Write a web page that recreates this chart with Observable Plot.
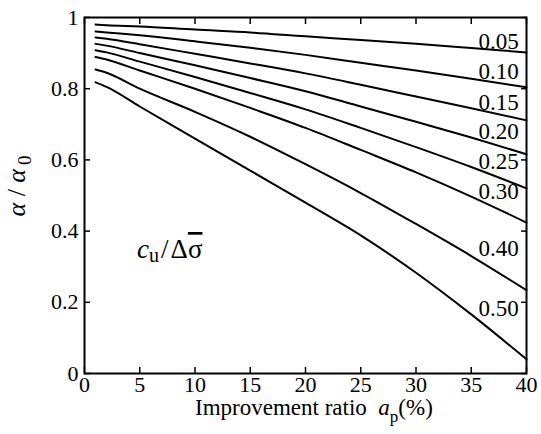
<!DOCTYPE html>
<html><head><meta charset="utf-8">
<script src="https://cdn.jsdelivr.net/npm/d3@7"></script>
<script src="https://cdn.jsdelivr.net/npm/@observablehq/plot@0.6"></script>
<style>
body{margin:0;background:#fff}
svg{display:block}
svg text, svg tspan { font-family: "Liberation Serif", "DejaVu Serif", serif !important; }
</style>
</head><body><div id="chart"></div>
<script>
// Improvement ratio a_p (%)
const xs = [1, 2, 5, 10, 15, 20, 25, 30, 35, 40];
// alpha / alpha0 for each c_u / delta-sigma
const c005 = [0.980, 0.978, 0.975, 0.966, 0.958, 0.947, 0.937, 0.926, 0.914, 0.902];
const c010 = [0.961, 0.958, 0.950, 0.933, 0.915, 0.895, 0.873, 0.851, 0.828, 0.804];
const c015 = [0.944, 0.940, 0.925, 0.898, 0.871, 0.843, 0.811, 0.778, 0.745, 0.711];
const c020 = [0.926, 0.921, 0.900, 0.866, 0.830, 0.793, 0.750, 0.707, 0.663, 0.616];
const c025 = [0.908, 0.902, 0.876, 0.833, 0.788, 0.742, 0.690, 0.636, 0.580, 0.520];
const c030 = [0.889, 0.882, 0.851, 0.800, 0.746, 0.690, 0.628, 0.565, 0.497, 0.424];
const c040 = [0.854, 0.845, 0.800, 0.735, 0.665, 0.588, 0.507, 0.420, 0.330, 0.234];
const c050 = [0.818, 0.805, 0.750, 0.660, 0.570, 0.480, 0.388, 0.283, 0.166, 0.040];
const seriesNames = ["0.05", "0.10", "0.15", "0.20", "0.25", "0.30", "0.40", "0.50"];
const seriesValues = [c005, c010, c015, c020, c025, c030, c040, c050];
// curve label placement (value space)
const labelY = [0.931, 0.848, 0.761, 0.679, 0.595, 0.510, 0.351, 0.183];
const labelX = 39.3;
const xTicks = [0, 5, 10, 15, 20, 25, 30, 35, 40];
const yTicks = [0, 0.2, 0.4, 0.6, 0.8, 1];
const yTickLabels = ["0", "0.2", "0.4", "0.6", "0.8", "1"];

const rows = seriesNames.flatMap((name, i) => xs.map((x, j) => ({name, x, y: seriesValues[i][j]})));
const labels = seriesNames.map((name, i) => ({name, y: labelY[i]}));

const font = "Liberation Serif, DejaVu Serif, serif";
const plot = Plot.plot({
  width: 541, height: 434,
  marginLeft: 84, marginRight: 15, marginTop: 17, marginBottom: 61,
  style: {fontFamily: font, fontSize: "22px", color: "black", background: "white", overflow: "visible"},
  x: {domain: [0, 40]},
  y: {domain: [0, 1]},
  marks: [
    Plot.axisX(xTicks, {anchor: "bottom", tickSize: -6, tickPadding: 9, strokeWidth: 1.5, label: null, fontSize: 22}),
    Plot.axisX(xTicks, {anchor: "top", tickSize: -6, tickFormat: () => "", strokeWidth: 1.5, label: null}),
    Plot.axisY(yTicks, {anchor: "left", tickSize: -6, tickPadding: 12, strokeWidth: 1.5, fontSize: 22,
      tickFormat: d => yTickLabels[yTicks.indexOf(d)], label: null}),
    Plot.axisY(yTicks, {anchor: "right", tickSize: -6, tickFormat: () => "", strokeWidth: 1.5, label: null}),
    Plot.line(rows, {x: "x", y: "y", z: "name", stroke: "black", strokeWidth: 2, curve: "monotone-x"}),
    Plot.text(labels, {x: labelX, y: "y", text: "name", textAnchor: "end", fontSize: 23, fill: "black"}),
    Plot.frame({stroke: "black", strokeWidth: 2})
  ]
});
document.getElementById("chart").appendChild(plot);

const svg = d3.select(plot);
// x-axis title
const xt = svg.append("text").attr("x", 195).attr("y", 415).attr("text-anchor", "start")
  .attr("font-size", 23).attr("fill", "black");
xt.append("tspan").text("Improvement ratio\u00a0\u00a0");
xt.append("tspan").attr("font-style", "italic").text("a");
xt.append("tspan").attr("font-size", 17).attr("dy", 7).text("p");
xt.append("tspan").attr("dy", -7).text("(%)");

// y-axis title
const yt = svg.append("text").attr("transform", "translate(25,186) rotate(-90)")
  .attr("text-anchor", "middle").attr("font-size", 26).attr("fill", "black");
yt.append("tspan").attr("font-style", "italic").text("\u03b1");
yt.append("tspan").text("\u00a0/\u00a0");
yt.append("tspan").attr("font-style", "italic").text("\u03b1");
yt.append("tspan").attr("font-size", 19).attr("dy", 6).attr("dx", 4).text("0");

// annotation c_u / Δσ̄
const at = svg.append("text").attr("x", 137).attr("y", 258).attr("text-anchor", "start")
  .attr("font-size", 27).attr("fill", "black");
at.append("tspan").attr("font-style", "italic").text("c");
at.append("tspan").attr("font-size", 20).attr("dy", 4).text("u");
at.append("tspan").attr("dy", -4).attr("dx", 2).text("/");
at.append("tspan").attr("dx", 2).text("\u0394");
at.append("tspan").style("text-decoration", "overline").text("\u03c3");
</script>
</body></html>
